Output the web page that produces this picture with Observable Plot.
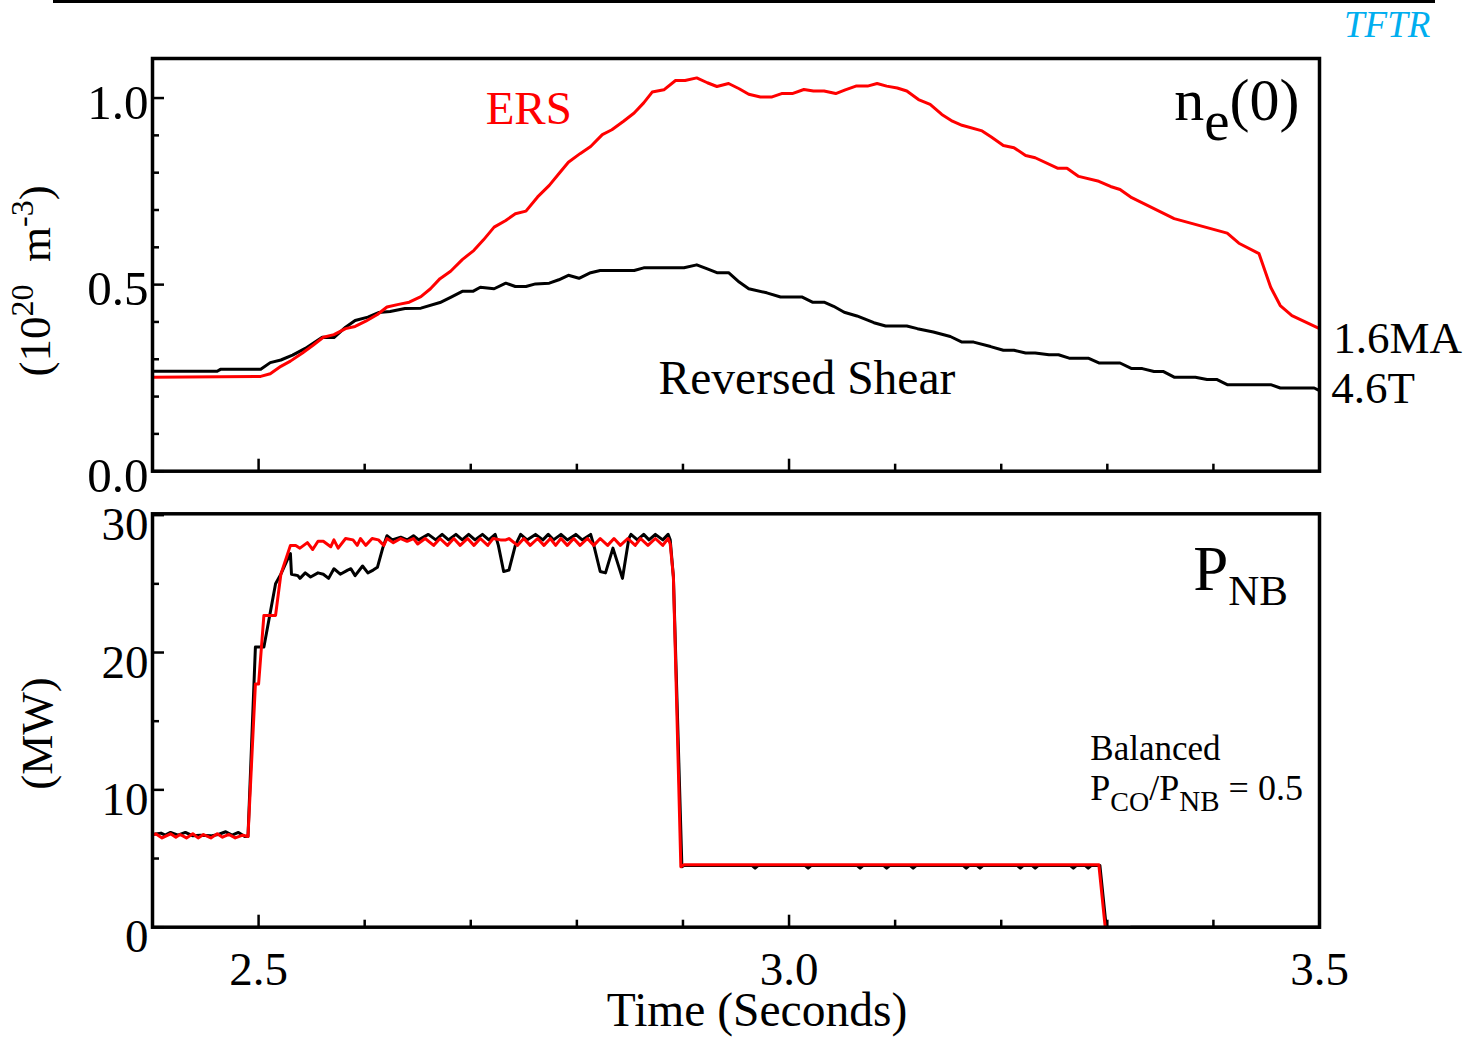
<!DOCTYPE html>
<html>
<head>
<meta charset="utf-8">
<script src="https://cdn.jsdelivr.net/npm/d3@7"></script>
<script src="https://cdn.jsdelivr.net/npm/@observablehq/plot@0.6"></script>
<style>
  body { margin: 0; background: #fff; }
  #page { position: relative; width: 1483px; height: 1038px; overflow: hidden; background: #fff;
          font-family: "Liberation Serif", "Times New Roman", Times, serif; }
  #rule { position: absolute; left: 53px; top: 0; width: 1382px; height: 3px; background: #000; }
  #tag { position: absolute; left: 1344px; top: 3px; font-size: 37px; font-style: italic; color: #00aeef; line-height: normal; }
  .panel { position: absolute; left: 0; }
</style>
</head>
<body>
<div id="page">
  <div id="rule"></div>
  <div id="tag">TFTR</div>
</div>
<script>
// Central electron density n_e(0), 10^20 m^-3, versus time (s)
const neReversedShear = [
  [2.400,0.268],[2.461,0.268],[2.464,0.273],[2.502,0.273],[2.511,0.291],[2.521,0.298],[2.532,0.311],
  [2.544,0.329],[2.560,0.359],[2.571,0.358],[2.582,0.386],[2.591,0.404],[2.603,0.413],[2.613,0.425],
  [2.624,0.428],[2.638,0.436],[2.653,0.437],[2.671,0.452],[2.681,0.466],[2.692,0.482],[2.702,0.482],
  [2.709,0.493],[2.722,0.489],[2.733,0.504],[2.742,0.495],[2.752,0.495],[2.761,0.502],[2.774,0.504],
  [2.783,0.513],[2.792,0.525],[2.802,0.517],[2.813,0.532],[2.822,0.538],[2.854,0.538],[2.863,0.545],
  [2.901,0.545],[2.913,0.553],[2.923,0.542],[2.932,0.532],[2.943,0.532],[2.953,0.507],[2.962,0.489],
  [2.979,0.478],[2.992,0.467],[3.012,0.467],[3.022,0.453],[3.033,0.453],[3.042,0.442],[3.052,0.426],
  [3.064,0.416],[3.080,0.398],[3.091,0.389],[3.111,0.389],[3.121,0.382],[3.136,0.373],[3.152,0.361],
  [3.163,0.346],[3.174,0.346],[3.190,0.334],[3.202,0.324],[3.212,0.324],[3.223,0.317],[3.232,0.317],
  [3.245,0.312],[3.254,0.312],[3.264,0.303],[3.282,0.303],[3.292,0.290],[3.312,0.290],[3.323,0.275],
  [3.333,0.275],[3.344,0.267],[3.353,0.267],[3.363,0.252],[3.383,0.252],[3.394,0.246],[3.403,0.246],
  [3.413,0.232],[3.454,0.232],[3.463,0.223],[3.495,0.223],[3.500,0.216]
];
const neERS = [
  [2.400,0.252],[2.502,0.254],[2.511,0.261],[2.521,0.281],[2.530,0.295],[2.541,0.316],[2.551,0.337],
  [2.561,0.359],[2.571,0.366],[2.582,0.382],[2.591,0.388],[2.601,0.402],[2.612,0.420],[2.621,0.440],
  [2.632,0.447],[2.642,0.453],[2.653,0.468],[2.662,0.489],[2.671,0.516],[2.681,0.536],[2.692,0.567],
  [2.703,0.592],[2.712,0.620],[2.722,0.654],[2.733,0.672],[2.742,0.690],[2.752,0.697],[2.763,0.735],
  [2.774,0.766],[2.783,0.797],[2.792,0.828],[2.803,0.851],[2.813,0.870],[2.824,0.902],[2.833,0.915],
  [2.844,0.938],[2.854,0.960],[2.863,0.987],[2.871,1.016],[2.882,1.022],[2.893,1.047],[2.902,1.047],
  [2.913,1.054],[2.923,1.041],[2.932,1.031],[2.943,1.039],[2.953,1.025],[2.962,1.010],[2.973,1.003],
  [2.984,1.003],[2.993,1.012],[3.003,1.012],[3.014,1.023],[3.023,1.019],[3.033,1.019],[3.044,1.012],
  [3.053,1.022],[3.063,1.032],[3.074,1.032],[3.083,1.039],[3.092,1.032],[3.102,1.027],[3.111,1.019],
  [3.122,0.996],[3.133,0.983],[3.144,0.956],[3.154,0.938],[3.163,0.927],[3.182,0.912],[3.191,0.895],
  [3.202,0.873],[3.212,0.867],[3.223,0.846],[3.232,0.840],[3.253,0.812],[3.262,0.812],[3.273,0.790],
  [3.292,0.777],[3.303,0.763],[3.312,0.755],[3.323,0.733],[3.363,0.677],[3.413,0.638],[3.424,0.611],
  [3.443,0.583],[3.454,0.493],[3.463,0.444],[3.474,0.417],[3.500,0.382]
];

// Neutral beam power P_NB, MW, versus time (s)
const pnbReversedShear = [
  [2.400,6.75],[2.408,6.85],[2.412,6.70],[2.417,6.90],[2.424,6.70],[2.431,6.90],[2.438,6.65],
  [2.445,6.70],[2.455,6.65],[2.462,6.75],[2.469,6.95],[2.475,6.70],[2.481,6.90],[2.487,6.60],
  [2.490,6.60],[2.497,20.4],[2.505,20.4],[2.516,25.0],[2.521,25.7],[2.528,26.9],[2.530,27.2],
  [2.531,25.7],[2.537,25.6],[2.539,25.4],[2.544,25.8],[2.549,25.5],[2.556,25.8],[2.561,25.7],
  [2.566,25.4],[2.571,26.1],[2.577,25.7],[2.584,26.0],[2.587,26.1],[2.591,25.6],[2.598,26.3],
  [2.603,25.8],[2.608,26.0],[2.612,26.2],[2.617,27.6],[2.621,28.5],[2.626,28.2],[2.634,28.4],
  [2.640,28.2],[2.646,28.5],[2.651,28.2],[2.660,28.6],[2.667,28.2],[2.673,28.6],[2.679,28.2],
  [2.686,28.6],[2.692,28.2],[2.698,28.6],[2.704,28.2],[2.711,28.6],[2.717,28.2],[2.723,28.6],
  [2.726,27.8],[2.731,25.9],[2.736,26.0],[2.742,27.8],[2.747,28.6],[2.753,28.2],[2.761,28.6],
  [2.768,28.2],[2.773,28.6],[2.778,28.2],[2.785,28.6],[2.791,28.2],[2.799,28.6],[2.805,28.2],
  [2.813,28.6],[2.816,27.8],[2.822,25.9],[2.827,25.8],[2.834,27.6],[2.843,25.4],[2.849,28.3],
  [2.851,28.6],[2.857,28.2],[2.863,28.6],[2.868,28.2],[2.874,28.6],[2.881,28.2],[2.886,28.6],
  [2.888,28.2],[2.891,25.5],[2.899,4.4],[2.901,4.5],
  [2.965,4.5],[2.968,4.3],[2.971,4.5],[3.015,4.5],[3.018,4.3],[3.021,4.5],[3.064,4.5],[3.067,4.3],
  [3.070,4.5],[3.089,4.5],[3.092,4.3],[3.095,4.5],[3.114,4.5],[3.117,4.3],[3.120,4.5],[3.164,4.5],
  [3.167,4.3],[3.170,4.5],[3.177,4.5],[3.180,4.3],[3.183,4.5],[3.215,4.5],[3.218,4.3],[3.221,4.5],
  [3.229,4.5],[3.232,4.3],[3.235,4.5],[3.265,4.5],[3.268,4.3],[3.271,4.5],[3.279,4.5],[3.282,4.3],
  [3.285,4.5],[3.293,4.5],[3.299,0],[3.310,NaN],[3.322,0],[3.500,0]
];
const pnbERS = [
  [2.400,6.70],[2.403,6.80],[2.409,6.50],[2.417,6.80],[2.422,6.55],[2.426,6.75],[2.432,6.50],
  [2.438,6.80],[2.443,6.50],[2.448,6.75],[2.455,6.50],[2.461,6.80],[2.466,6.55],[2.472,6.75],
  [2.478,6.50],[2.485,6.70],[2.490,6.60],[2.497,17.7],[2.500,17.7],[2.505,22.7],[2.516,22.7],
  [2.521,25.7],[2.530,27.8],[2.535,27.8],[2.539,27.6],[2.546,28.0],[2.551,27.5],[2.556,28.1],
  [2.561,28.1],[2.568,27.7],[2.571,28.2],[2.575,27.6],[2.582,28.3],[2.589,28.2],[2.593,27.8],
  [2.596,28.3],[2.601,27.8],[2.607,28.3],[2.613,28.2],[2.618,27.8],[2.621,28.3],[2.627,28.0],
  [2.634,28.3],[2.640,28.1],[2.646,28.3],[2.650,27.9],[2.657,28.3],[2.665,27.8],[2.671,28.3],
  [2.678,27.8],[2.684,28.3],[2.690,27.8],[2.697,28.3],[2.703,27.8],[2.709,28.3],[2.716,27.8],
  [2.721,28.3],[2.728,28.2],[2.733,28.2],[2.736,28.3],[2.744,27.8],[2.750,28.3],[2.756,27.8],
  [2.763,28.3],[2.769,27.8],[2.775,28.3],[2.780,27.8],[2.785,28.3],[2.791,27.8],[2.797,28.3],
  [2.803,27.8],[2.810,28.3],[2.816,27.8],[2.822,28.3],[2.829,27.8],[2.835,28.3],[2.841,27.8],
  [2.848,28.3],[2.855,27.8],[2.860,28.3],[2.867,27.8],[2.874,28.3],[2.881,27.8],[2.886,28.3],
  [2.888,27.9],[2.891,25.5],[2.898,4.4],[2.901,4.55],[3.292,4.55],[3.298,0]
];

// Axis ticks
const timeDomain = [2.4, 3.5];
const timeMajor = [2.5, 3.0, 3.5];
const timeMinor = [2.6, 2.7, 2.8, 2.9, 3.1, 3.2, 3.3, 3.4];
const neMajor = [0, 0.5, 1.0];
const neMinor = [0.1, 0.2, 0.3, 0.4, 0.6, 0.7, 0.8, 0.9];
const pnbMajor = [0, 10, 20, 30];
const pnbMinor = [5, 15, 25];

const serif = '"Liberation Serif", "Times New Roman", Times, serif';
const RED = "#ff0000";
const rows = (pairs) => pairs.map(([t, v]) => ({t, v}));

// Sub/superscript layouts: [text, font size px, baseline offset px (down positive)]
const richLabels = {
  "ne(0)": [["n", 60, 0], ["e", 57, 20], ["(0)", 60, 0]],
  "(1020 m-3)": [["(10", 45, 0], ["20", 32, -17], ["\u00a0\u00a0m", 45, 0], ["-3", 32, -17], [")", 45, 0]],
  "PNB": [["P", 63, 0], ["NB", 43, 15]],
  "Pco/PNB = 0.5": [["P", 36, 0], ["CO", 28, 11], ["/P", 36, 0], ["NB", 29, 11], ["\u00a0=\u00a00.5", 36, 0]]
};

function applyRich(svg) {
  d3.select(svg).selectAll("text").each(function () {
    const parts = richLabels[this.textContent];
    if (!parts) return;
    const t = d3.select(this).text(null);
    let prev = 0;
    for (const [s, size, shift] of parts) {
      t.append("tspan").attr("font-size", size).attr("dy", shift - prev).text(s);
      prev = shift;
    }
  });
  return svg;
}

// Ticks drawn on the inside of the frame
function inwardTicks(axis, major, minor) {
  const make = axis === "x" ? Plot.axisX : Plot.axisY;
  return [
    make({ticks: minor, tickSize: -7, tickFormat: () => "", label: null, strokeWidth: 2.5}),
    make({ticks: major, tickSize: -12, tickFormat: () => "", label: null, strokeWidth: 2.5})
  ];
}

const label = (s, opts) => Plot.text([s], {text: (d) => d, ...opts});

const nePlot = Plot.plot({
  width: 1483, height: 510,
  marginTop: 58, marginRight: 164, marginBottom: 39.3, marginLeft: 152,
  style: {fontFamily: serif, fontSize: "45px", color: "#000", background: "none"},
  x: {domain: timeDomain},
  y: {domain: [0, 1.106]},
  marks: [
    ...inwardTicks("x", timeMajor, timeMinor),
    ...inwardTicks("y", neMajor, neMinor),
    Plot.axisY({ticks: neMajor, tickSize: 0, tickPadding: 4, tickFormat: d3.format(".1f"), fontSize: 49, dy: 5, label: null}),
    Plot.line(rows(neReversedShear), {x: "t", y: "v", stroke: "#000", strokeWidth: 3}),
    Plot.line(rows(neERS), {x: "t", y: "v", stroke: RED, strokeWidth: 3}),
    Plot.frame({strokeWidth: 3.5}),
    label("ERS", {x: 2.714, y: 0.931, fill: RED, fontSize: 47, textAnchor: "start", lineAnchor: "bottom"}),
    label("Reversed Shear", {x: 2.877, y: 0.206, fontSize: 47.5, textAnchor: "start", lineAnchor: "bottom"}),
    label("ne(0)", {x: 3.363, y: 0.940, fontSize: 60, textAnchor: "start", lineAnchor: "bottom"}),
    label("1.6MA", {x: 3.513, y: 0.318, fontSize: 45, textAnchor: "start", lineAnchor: "bottom"}),
    label("4.6T", {x: 3.511, y: 0.184, fontSize: 45, textAnchor: "start", lineAnchor: "bottom"}),
    label("(1020 m-3)", {frameAnchor: "left", rotate: -90, textAnchor: "middle", dx: -117, dy: 16, fontSize: 45})
  ]
});

const pnbPlot = Plot.plot({
  width: 1483, height: 548,
  marginTop: 23.3, marginRight: 164, marginBottom: 111.3, marginLeft: 152,
  style: {fontFamily: serif, fontSize: "45px", color: "#000", background: "none"},
  x: {domain: timeDomain},
  y: {domain: [0, 30.1]},
  marks: [
    ...inwardTicks("x", timeMajor, timeMinor),
    ...inwardTicks("y", pnbMajor, pnbMinor),
    Plot.axisY({ticks: pnbMajor, tickSize: 0, tickPadding: 4, tickFormat: d3.format("d"), fontSize: 47, dy: 10, label: null}),
    Plot.axisX({ticks: timeMajor, tickSize: 0, tickPadding: 24, tickFormat: d3.format(".1f"), fontSize: 47, label: null}),
    Plot.line(rows(pnbReversedShear), {x: "t", y: "v", stroke: "#000", strokeWidth: 3}),
    Plot.line(rows(pnbERS), {x: "t", y: "v", stroke: RED, strokeWidth: 3}),
    Plot.frame({strokeWidth: 3.5}),
    label("PNB", {x: 3.381, y: 24.52, fontSize: 63, textAnchor: "start", lineAnchor: "bottom"}),
    label("Balanced", {x: 3.284, y: 12.14, fontSize: 35, textAnchor: "start", lineAnchor: "bottom"}),
    label("Pco/PNB = 0.5", {x: 3.284, y: 9.23, fontSize: 36, textAnchor: "start", lineAnchor: "bottom"}),
    label("(MW)", {frameAnchor: "left", rotate: -90, textAnchor: "middle", dx: -115, dy: 13, fontSize: 45}),
    label("Time (Seconds)", {frameAnchor: "bottom", dx: 21, dy: 99, fontSize: 47.5, lineAnchor: "bottom"})
  ]
});

const page = document.getElementById("page");
for (const [svg, top] of [[nePlot, 0], [pnbPlot, 490]]) {
  applyRich(svg);
  svg.classList.add("panel");
  svg.style.top = top + "px";
  page.appendChild(svg);
}
</script>
</body>
</html>
